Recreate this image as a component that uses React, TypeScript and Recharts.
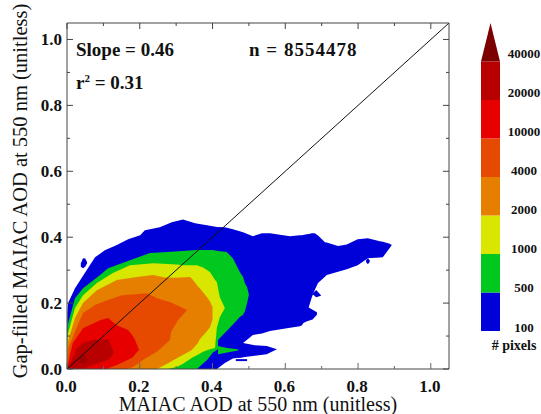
import { Area, Bar, BarChart, ComposedChart, Line, XAxis, YAxis } from "recharts";

const SERIF = "'Liberation Serif', serif";

const blueBodyX = [0, 0.001, 0.003, 0.022, 0.049, 0.077, 0.104, 0.137, 0.168, 0.201, 0.214, 0.255, 0.288, 0.319, 0.352, 0.385, 0.412, 0.434, 0.456, 0.484, 0.484, 0.511, 0.536, 0.558, 0.613, 0.64, 0.646, 0.655, 0.665, 0.673, 0.681, 0.69, 0.709, 0.714, 0.745, 0.769, 0.799, 0.827, 0.86, 0.868, 0.887, 0.893];
const blueBodyHi = [0, 0.17, 0.2, 0.245, 0.291, 0.339, 0.36, 0.376, 0.394, 0.406, 0.421, 0.43, 0.445, 0.454, 0.442, 0.436, 0.431, 0.43, 0.424, 0.415, 0.415, 0.403, 0.412, 0.412, 0.403, 0.406, 0.406, 0.408, 0.41, 0.412, 0.412, 0.405, 0.385, 0.384, 0.373, 0.378, 0.394, 0.397, 0.388, 0.386, 0.38, 0.376];
const blueBodyLo = [0, 0, 0, 0, 0, 0, 0, 0, 0, 0, 0, 0, 0, 0, 0, 0, 0, 0.018, 0.032, 0.036, 0.079, 0.103, 0.108, 0.115, 0.125, 0.13, 0.133, 0.15, 0.19, 0.218, 0.24, 0.261, 0.28, 0.285, 0.295, 0.303, 0.315, 0.336, 0.338, 0.339, 0.367, 0.376];

const blueLobeX = [0.47, 0.484, 0.516, 0.549, 0.577];
const blueLobeHi = [0.06, 0.079, 0.072, 0.07, 0.06];
const blueLobeLo = [0.034, 0.036, 0.04, 0.045, 0.06];

const blueSpurX = [0.64, 0.66, 0.675, 0.687];
const blueSpurHi = [0.19, 0.19, 0.18, 0.172];
const blueSpurLo = [0.135, 0.145, 0.15, 0.165];

const blueDashX = [0.464, 0.495];
const blueDashHi = [0.03, 0.03];
const blueDashLo = [0.024, 0.024];

const blueSpotAX = [0.038, 0.044, 0.05, 0.055];
const blueSpotAHi = [0.32, 0.336, 0.335, 0.325];
const blueSpotALo = [0.31, 0.306, 0.31, 0.32];

const blueSpotBX = [0.676, 0.685, 0.698];
const blueSpotBHi = [0.23, 0.24, 0.224];
const blueSpotBLo = [0.226, 0.218, 0.222];

const blueSpotCX = [0.822, 0.827, 0.832];
const blueSpotCHi = [0.33, 0.336, 0.33];
const blueSpotCLo = [0.325, 0.318, 0.325];

const greenX = [0, 0.001, 0.003, 0.022, 0.044, 0.091, 0.113, 0.173, 0.228, 0.275, 0.357, 0.385, 0.401, 0.415, 0.415, 0.439, 0.456, 0.475, 0.484, 0.489, 0.495, 0.5];
const greenHi = [0, 0.118, 0.139, 0.215, 0.245, 0.285, 0.306, 0.33, 0.352, 0.355, 0.361, 0.361, 0.361, 0.358, 0.358, 0.355, 0.336, 0.294, 0.279, 0.26, 0.249, 0.225];
const greenLo = [0, 0, 0, 0, 0, 0, 0, 0, 0, 0, 0, 0.027, 0.05, 0.06, 0.088, 0.115, 0.135, 0.158, 0.165, 0.175, 0.2, 0.225];

const greenTailX = [0.415, 0.44, 0.47];
const greenTailHi = [0.07, 0.064, 0.06];
const greenTailLo = [0.045, 0.05, 0.056];

const yellowX = [0, 0.001, 0.003, 0.022, 0.044, 0.082, 0.126, 0.173, 0.237, 0.277, 0.302, 0.319, 0.346, 0.357, 0.374, 0.393, 0.407, 0.409, 0.412, 0.42, 0.434];
const yellowHi = [0, 0.09, 0.109, 0.185, 0.224, 0.261, 0.291, 0.315, 0.321, 0.319, 0.317, 0.315, 0.315, 0.315, 0.308, 0.294, 0.27, 0.268, 0.264, 0.218, 0.185];
const yellowLo = [0, 0, 0, 0, 0, 0, 0, 0, 0, 0, 0.006, 0.016, 0.036, 0.042, 0.052, 0.06, 0.064, 0.09, 0.125, 0.157, 0.185];

const orangeX = [0, 0.001, 0.003, 0.022, 0.044, 0.082, 0.137, 0.192, 0.236, 0.247, 0.269, 0.302, 0.338, 0.343, 0.36, 0.365, 0.385, 0.393, 0.4];
const orangeHi = [0, 0.06, 0.085, 0.155, 0.2, 0.239, 0.27, 0.279, 0.285, 0.283, 0.278, 0.277, 0.279, 0.275, 0.25, 0.245, 0.218, 0.205, 0.188];
const orangeLo = [0, 0, 0, 0, 0, 0, 0, 0, 0, 0, 0.012, 0.033, 0.055, 0.058, 0.079, 0.09, 0.115, 0.127, 0.15];

const redOrangeX = [0, 0.005, 0.027, 0.044, 0.077, 0.11, 0.151, 0.165, 0.181, 0.209, 0.22, 0.247, 0.283, 0.286, 0.305, 0.33];
const redOrangeHi = [0, 0.067, 0.127, 0.17, 0.194, 0.209, 0.224, 0.225, 0.226, 0.229, 0.23, 0.215, 0.203, 0.202, 0.192, 0.179];
const redOrangeLo = [0, 0, 0, 0, 0, 0, 0, 0, 0.006, 0.027, 0.035, 0.052, 0.088, 0.112, 0.148, 0.179];

const redX = [0, 0.008, 0.016, 0.044, 0.091, 0.11, 0.113, 0.137, 0.168, 0.181, 0.187, 0.198];
const redHi = [0, 0.042, 0.079, 0.124, 0.148, 0.154, 0.155, 0.133, 0.118, 0.1, 0.088, 0.058];
const redLo = [0, 0, 0, 0, 0, 0, 0.002, 0.012, 0.028, 0.036, 0.045, 0.058];

const darkRedX = [0, 0.014, 0.027, 0.044, 0.071, 0.113, 0.118, 0.126, 0.128];
const darkRedHi = [0, 0.027, 0.064, 0.079, 0.088, 0.091, 0.08, 0.058, 0.05];
const darkRedLo = [0, 0, 0, 0, 0.012, 0.027, 0.033, 0.045, 0.05];

const peakX = [0.032, 0.036, 0.044, 0.052, 0.056];
const peakHi = [0.03, 0.04, 0.044, 0.04, 0.03];
const peakLo = [0.03, 0.02, 0.016, 0.02, 0.03];

const diagonalValues = [0, 1.05];

const BLUE = "#0000d8";
const GREEN = "#00c81e";
const YELLOW = "#d8e600";
const ORANGE = "#e67e00";
const RED_ORANGE = "#e64a00";
const RED = "#e60000";
const DARK_RED = "#b80000";
const PEAK = "#a00000";
const TOP = "#7c0000";

const band = (xs: number[], lo: number[], hi: number[]) =>
  xs.map((x, i) => ({ x, band: [lo[i], hi[i]] }));

const contours = [
  { name: "blue-body", fill: BLUE, data: band(blueBodyX, blueBodyLo, blueBodyHi) },
  { name: "blue-lobe", fill: BLUE, data: band(blueLobeX, blueLobeLo, blueLobeHi) },
  { name: "blue-spur", fill: BLUE, data: band(blueSpurX, blueSpurLo, blueSpurHi) },
  { name: "blue-dash", fill: BLUE, data: band(blueDashX, blueDashLo, blueDashHi) },
  { name: "blue-a", fill: BLUE, data: band(blueSpotAX, blueSpotALo, blueSpotAHi) },
  { name: "blue-b", fill: BLUE, data: band(blueSpotBX, blueSpotBLo, blueSpotBHi) },
  { name: "blue-c", fill: BLUE, data: band(blueSpotCX, blueSpotCLo, blueSpotCHi) },
  { name: "green", fill: GREEN, data: band(greenX, greenLo, greenHi) },
  { name: "green-tail", fill: GREEN, data: band(greenTailX, greenTailLo, greenTailHi) },
  { name: "yellow", fill: YELLOW, data: band(yellowX, yellowLo, yellowHi) },
  { name: "orange", fill: ORANGE, data: band(orangeX, orangeLo, orangeHi) },
  { name: "red-orange", fill: RED_ORANGE, data: band(redOrangeX, redOrangeLo, redOrangeHi) },
  { name: "red", fill: RED, data: band(redX, redLo, redHi) },
  { name: "dark-red", fill: DARK_RED, data: band(darkRedX, darkRedLo, darkRedHi) },
  { name: "peak", fill: PEAK, data: band(peakX, peakLo, peakHi) },
];

const diagonal = diagonalValues.map((v) => ({ x: v, y: v }));

const xTicks = [0, 0.1, 0.2, 0.3, 0.4, 0.5, 0.6, 0.7, 0.8, 0.9, 1.0];
const yTicks = [0, 0.1, 0.2, 0.3, 0.4, 0.5, 0.6, 0.7, 0.8, 0.9, 1.0];

const isMajor = (v: number) => Math.round(v * 10) % 2 === 0;

const tickFont = { fontFamily: SERIF, fontWeight: 700, fontSize: 17, fill: "#111" };

const BottomTick = ({ x, y, payload }: any) => (
  <g>
    <line x1={x} x2={x} y1={y} y2={y - (isMajor(payload.value) ? 6 : 3)} stroke="#666" />
    {isMajor(payload.value) && (
      <text x={x - 1} y={y + 23} textAnchor="middle" {...tickFont}>
        {payload.value.toFixed(1)}
      </text>
    )}
  </g>
);

const TopTick = ({ x, y, payload }: any) => (
  <line x1={x} x2={x} y1={y} y2={y + (isMajor(payload.value) ? 6 : 3)} stroke="#444" />
);

const LeftTick = ({ x, y, payload }: any) => (
  <g>
    <line x1={x} x2={x + (isMajor(payload.value) ? 6 : 3)} y1={y} y2={y} stroke="#444" />
    {isMajor(payload.value) && (
      <text x={x - 5} y={y + 6} textAnchor="end" {...tickFont}>
        {payload.value.toFixed(1)}
      </text>
    )}
  </g>
);

const RightTick = ({ x, y, payload }: any) => (
  <line x1={x} x2={x - (isMajor(payload.value) ? 6 : 3)} y1={y} y2={y} stroke="#444" />
);

const legendLabels = ["100", "500", "1000", "2000", "4000", "10000", "20000", "40000"];
const legendColors = [BLUE, GREEN, YELLOW, ORANGE, RED_ORANGE, RED, DARK_RED, TOP];
const legendTicks = [0, 1, 2, 3, 4, 5, 6, 7];
const legendRow = [{ name: "pixels", ...Object.fromEntries(legendLabels.map((l) => ["s" + l, 1])) }];

const LegendTick = ({ x, y, payload }: any) => (
  <text x={x + 24} y={y + 0.5 - payload.value * 0.55} textAnchor="middle" fontFamily={SERIF} fontWeight={700} fontSize={13} fill="#111">
    {legendLabels[payload.value]}
  </text>
);

const Arrow = ({ x, y, width, height, fill }: any) => (
  <path d={`M${x},${y + height}L${x + width / 2},${y}L${x + width},${y + height}Z`} fill={fill} />
);

const noteFont = { fontFamily: SERIF, fontWeight: 700, fontSize: 19, fill: "#111" };

export default function App() {
  return (
    <div style={{ position: "absolute", left: 0, top: 0, width: 541, height: 414, background: "#fff", overflow: "hidden" }}>
      <div style={{ position: "absolute", left: 0, top: 0 }}>
        <ComposedChart width={460} height={414} margin={{ top: 22, right: 10, bottom: 0, left: 0 }}>
          <XAxis
            xAxisId="bottom"
            dataKey="x"
            type="number"
            domain={[0, 1.05]}
            ticks={xTicks}
            interval={0}
            height={45}
            tickSize={0}
            tickMargin={0}
            tickLine={false}
            tick={BottomTick}
            stroke="#444"
            allowDataOverflow
            label={{ value: "MAIAC AOD at 550 nm (unitless)", position: "insideBottom", offset: 3, style: { fontFamily: SERIF, fontSize: 20, fill: "#111" } }}
          />
          <XAxis
            xAxisId="top"
            orientation="top"
            dataKey="x"
            type="number"
            domain={[0, 1.05]}
            ticks={xTicks}
            interval={0}
            height={1}
            tickSize={0}
            tickMargin={0}
            tickLine={false}
            tick={TopTick}
            stroke="#444"
            allowDataOverflow
          />
          <YAxis
            yAxisId="left"
            type="number"
            domain={[0, 1.05]}
            ticks={yTicks}
            interval={0}
            width={67}
            tickSize={0}
            tickMargin={0}
            tickLine={false}
            tick={LeftTick}
            stroke="#444"
            allowDataOverflow
            label={{ value: "Gap-filled MAIAC AOD at 550 nm (unitless)", angle: -90, position: "insideLeft", offset: 20, dy: -5, style: { fontFamily: SERIF, fontSize: 20.5, fill: "#111", textAnchor: "middle" } }}
          />
          <YAxis
            yAxisId="right"
            orientation="right"
            type="number"
            domain={[0, 1.05]}
            ticks={yTicks}
            interval={0}
            width={1}
            tickSize={0}
            tickMargin={0}
            tickLine={false}
            tick={RightTick}
            stroke="#444"
            allowDataOverflow
          />
          {contours.map((c) => (
            <Area
              key={c.name}
              xAxisId="bottom"
              yAxisId="left"
              data={c.data}
              dataKey="band"
              type="linear"
              stroke="none"
              fill={c.fill}
              fillOpacity={1}
              dot={false}
              activeDot={false}
              isAnimationActive={false}
            />
          ))}
          <Line
            xAxisId="bottom"
            yAxisId="left"
            data={diagonal}
            dataKey="y"
            type="linear"
            stroke="#111"
            strokeWidth={1}
            dot={false}
            activeDot={false}
            isAnimationActive={false}
          />
          <text x={76} y={56} {...noteFont}>Slope = 0.46</text>
          <text x={249} y={56} {...noteFont} letterSpacing={1}>n = 8554478</text>
          <text x={76} y={89} {...noteFont}>
            r<tspan dy={-7} fontSize={11}>2</tspan><tspan dy={7}> = 0.31</tspan>
          </text>
        </ComposedChart>
      </div>
      <div style={{ position: "absolute", left: 461, top: 0 }}>
        <BarChart
          width={80}
          height={414}
          data={legendRow}
          barCategoryGap={0}
          margin={{ top: 23, right: 0, bottom: 83, left: 20 }}
        >
          <XAxis hide dataKey="name" />
          <YAxis
            orientation="right"
            type="number"
            domain={[0, 8]}
            ticks={legendTicks}
            interval={0}
            width={41}
            tickSize={0}
            tickMargin={0}
            tickLine={false}
            axisLine={false}
            tick={LegendTick}
          />
          {legendLabels.map((l, i) => (
            <Bar
              key={l}
              dataKey={"s" + l}
              stackId="scale"
              fill={legendColors[i]}
              isAnimationActive={false}
              shape={i === legendLabels.length - 1 ? Arrow : undefined}
            />
          ))}
          <text x={53} y={350} textAnchor="middle" fontFamily={SERIF} fontWeight={700} fontSize={14} fill="#111">
            # pixels
          </text>
        </BarChart>
      </div>
    </div>
  );
}
